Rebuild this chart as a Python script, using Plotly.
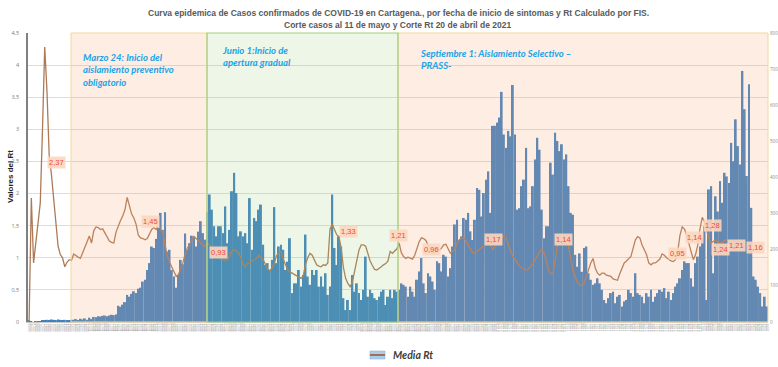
import plotly.graph_objects as go
import pandas as pd

# Daily confirmed cases (right axis)
casos = [
    3, 1, 0, 1, 2, 1, 3, 5, 6, 5, 7, 6, 5, 7, 6, 5, 6, 4, 5, 6,
    6, 8, 5, 9, 7, 10, 6, 12, 8, 14,
    13, 16, 15, 17, 18, 16, 18, 20, 19, 21,
    45, 42, 48, 55,
    75, 70, 78,
    85, 80, 92, 95,
    112, 117, 144, 163, 209, 205, 230, 260, 302, 255, 304, 195, 200, 144, 126, 95, 130, 172, 160, 245,
    200, 218, 239, 237, 209, 250, 279, 246, 228, 305,
    353, 311, 265, 237, 265, 265, 246, 320, 218, 255,
    362, 413, 357, 237, 251, 237, 246, 218, 343, 200,
    288, 279, 311, 325, 214, 158, 163, 144, 172, 318,
    163, 209, 214, 200, 144, 167, 232, 80, 107, 107,
    144, 98, 130, 242, 126, 103, 144, 130, 144, 98,
    126, 98, 135, 75, 98, 353, 205, 158, 237, 209,
    66, 33, 61, 33, 130, 84, 107, 80, 61, 89,
    181, 70, 89, 80, 66, 61, 70, 84, 89, 47,
    70, 89, 66, 89, 84, 89, 107, 103, 98, 70,
    98, 84, 70, 117, 140,
    177, 107, 80, 135, 126, 112, 89, 168, 163, 140,
    186, 181, 126, 149, 209, 270, 283, 227, 237, 288,
    283, 302, 251, 227, 283, 371, 366, 292, 357, 394,
    417, 302, 543, 543, 552, 566, 637, 519, 482, 529,
    514, 656, 519, 311, 315, 376, 394, 482, 315, 320,
    376, 450, 510, 477, 311, 232, 265, 265, 441, 408,
    524, 501, 473, 492, 450, 464, 376, 302, 297, 186,
    153, 190, 139, 205, 209, 135, 117, 103, 107, 121,
    107, 89, 61, 52, 66, 80, 84, 52, 70, 75, 43, 57, 61, 89, 80, 70, 135, 80,
    75, 70, 52, 80, 70, 89, 56, 70, 80, 89, 84, 94, 66, 84, 61, 80, 98, 107,
    121, 144, 168, 163, 163, 121, 98, 163, 181, 209,
    232, 265, 61, 367, 376, 135, 348, 306, 390, 330,
    413, 403, 385, 496, 445, 561, 487, 436, 695, 589,
    404, 658, 316, 126, 117, 98, 80, 43, 70, 43,
]

# Media Rt (left axis)
media_rt = [
    0, 1.93, 0.92, 1.25, 1.55, 1.85, 3.0, 4.28, 3.6, 2.6,
    2.3, 1.95, 1.55, 1.18, 1.05, 1.0, 0.86, 0.93, 0.97, 0.96,
    1.06, 1.03, 1.01, 0.99, 1.07, 1.17, 1.25, 1.34, 1.23, 1.42,
    1.48, 1.47, 1.44, 1.45, 1.38, 1.31, 1.26, 1.24, 1.23, 1.4,
    1.5, 1.58, 1.65, 1.75, 1.94, 1.8, 1.68, 1.62, 1.52, 1.35,
    1.31, 1.3, 1.28, 1.3, 1.38, 1.44, 1.47, 1.44, 1.5, 1.45,
    1.39, 1.2, 1.03, 0.93, 0.86, 0.78, 0.71, 0.74, 0.82, 0.92,
    1.06, 1.15, 1.2, 1.28, 1.33, 1.3, 1.27, 1.23, 1.19, 1.18,
    1.23, 1.2, 1.15, 1.12, 1.1, 1.02, 0.98, 0.97, 0.96, 0.97,
    1.04, 1.1, 1.13, 1.1, 1.07, 1.0, 0.9, 0.86, 0.92, 0.92,
    0.95, 0.97, 0.99, 1.04, 1.0, 0.97, 0.9, 0.82, 0.8, 0.84,
    0.92, 1.03, 1.08, 1.10, 0.98, 0.88, 0.81, 0.78, 0.76, 0.73,
    0.71, 0.69, 0.68, 0.72, 0.9, 1.0, 1.07, 1.04, 0.95, 0.89,
    0.87, 0.86, 0.89, 0.88, 0.92, 1.45, 1.52, 1.44, 1.36, 1.33,
    1.15, 0.85, 0.68, 0.6, 0.55, 0.62, 0.8, 1.0, 1.12, 1.2,
    1.2, 1.18, 1.05, 0.95, 0.88, 0.82, 0.81, 0.83, 0.86, 0.89,
    0.91, 0.95, 1.1, 1.07, 1.1, 1.14, 1.23, 1.08, 1.02, 0.99,
    1.01, 1.0, 0.98, 1.04, 1.15, 1.25, 1.31, 1.3, 1.27, 1.19,
    1.12, 1.08, 1.07, 1.15, 1.12, 1.15, 1.2, 1.21, 1.14, 1.07,
    1.1, 1.13, 1.23, 1.28, 1.3, 1.31, 1.26, 1.2, 1.12, 1.08,
    1.07, 1.1, 1.13, 1.16, 1.19, 1.2, 1.23, 1.2, 1.12, 1.2,
    1.28, 1.31, 1.33, 1.34, 1.31, 1.2, 1.1, 1.03, 0.97, 0.92,
    0.87, 0.84, 0.82, 0.81, 0.83, 0.86, 0.91, 0.97, 1.04, 1.09,
    1.13, 1.08, 0.95, 0.81, 0.75, 0.76, 0.95, 1.2, 1.31, 1.34,
    1.32, 1.28, 1.18, 1.0, 0.8, 0.7, 0.62, 0.58, 0.56, 0.6,
    0.71, 0.82, 0.92, 0.99, 0.84, 0.76, 0.73, 0.76, 0.76, 0.73,
    0.72, 0.71, 0.67, 0.66, 0.65, 0.75, 0.85, 0.92, 0.95, 0.98,
    1.02, 1.15, 1.28, 1.33, 1.31, 1.2, 1.12, 1.05, 0.92, 0.89,
    0.92, 0.92, 0.95, 0.98, 1.06, 1.04, 1.0, 0.97, 0.95, 0.94,
    0.97, 1.1, 1.35, 1.48, 1.45, 1.35, 1.23, 1.07, 0.97, 1.05,
    1.2, 1.45, 1.63, 1.56, 1.44, 1.3, 1.23, 1.26, 1.28, 1.24,
    1.23, 1.24, 1.27, 1.28,
]

# Rt data labels: text, bar index, Rt level of the label
rt_label_text = ["2,37", "1,45", "0,93", "1,33", "1,21", "0,96", "1,17",
                 "1,14", "0,95", "1,14", "1,28", "1,24", "1,21", "1,16"]
rt_label_idx = [12.5, 54.4, 85, 143.5, 165.6, 180.4, 208.3,
                239.8, 290.7, 298.3, 306.4, 310, 317.2, 325.8]
rt_label_lvl = [2.48, 1.56, 1.08, 1.41, 1.34, 1.125, 1.28,
                1.28, 1.06, 1.31, 1.5, 1.125, 1.19, 1.16]

titulo_1 = "Curva epidemica de Casos confirmados de COVID-19 en Cartagena., por fecha de inicio de sintomas y Rt Calculado por FIS."
titulo_2 = "Corte casos al 11 de mayo y Corte Rt 20 de abril de 2021"

N = len(casos)
idx = list(range(N))
fechas = pd.date_range("2020-03-05", periods=N).strftime("%d/%m").tolist()

fig = go.Figure()
fig.add_trace(go.Bar(x=idx, y=casos, yaxis="y", marker=dict(color="#3f82c2", line=dict(width=0)),
                     showlegend=False, name="Casos"))
fig.add_trace(go.Scatter(x=list(range(len(media_rt))), y=media_rt, yaxis="y2", mode="lines",
                         line=dict(color="#ad7a58", width=1.3), name="Media Rt", showlegend=False))

W0, W = 28, 740
H0, H = 322, 289
def px(x):
    return (x - W0) / W
def py(y):
    return (H0 - y) / H

shapes = [
    dict(type="rect", xref="paper", yref="paper", x0=px(71), x1=px(207), y0=0, y1=1, layer="above",
         fillcolor="rgba(245,165,115,0.2)", line=dict(color="#f3d999", width=1)),
    dict(type="rect", xref="paper", yref="paper", x0=px(398), x1=1, y0=0, y1=1, layer="above",
         fillcolor="rgba(245,165,115,0.2)", line=dict(color="#f3d999", width=1)),
    dict(type="rect", xref="paper", yref="paper", x0=px(207), x1=px(398), y0=0, y1=1, layer="above",
         fillcolor="rgba(150,200,110,0.17)", line=dict(color="#a3cf7f", width=1.2)),
    # legend symbol
    dict(type="rect", xref="paper", yref="paper", x0=px(370), x1=px(385), y0=py(359), y1=py(351),
         fillcolor="#a9cdee", line=dict(color="#8fb6dc", width=0.6)),
    dict(type="line", xref="paper", yref="paper", x0=px(370), x1=px(385), y0=py(355), y1=py(355),
         line=dict(color="#a36f4f", width=2)),
]

blue_font = dict(family="Lato, Open Sans, sans-serif", size=9.5, color="#1aa3e8")
title_font = dict(family="Liberation Sans, Arial, sans-serif", size=8.5, color="#595959")
annotations = [
    dict(xref="paper", yref="paper", x=px(398), y=py(13), xanchor="center", yanchor="middle",
         showarrow=False, font=title_font, text="<b>" + titulo_1 + "</b>"),
    dict(xref="paper", yref="paper", x=px(398), y=py(25), xanchor="center", yanchor="middle",
         showarrow=False, font=title_font, text="<b>" + titulo_2 + "</b>"),
    dict(xref="paper", yref="paper", x=px(81), y=py(50), xanchor="left", yanchor="top", align="left",
         showarrow=False, font=blue_font,
         text="<b><i>Marzo 24: Inicio del<br>aislamiento preventivo<br>obligatorio</i></b>"),
    dict(xref="paper", yref="paper", x=px(220), y=py(43), xanchor="left", yanchor="top", align="left",
         showarrow=False, font=blue_font,
         text="<b><i>Junio 1:Inicio de<br>apertura gradual</i></b>"),
    dict(xref="paper", yref="paper", x=px(418), y=py(46), xanchor="left", yanchor="top", align="left",
         showarrow=False, font=blue_font,
         text="<b><i>Septiembre 1: Aislamiento Selectivo –<br>PRASS-</i></b>"),
    dict(xref="paper", yref="paper", x=px(391), y=py(355), xanchor="left", yanchor="middle",
         showarrow=False, font=dict(family="Lato, sans-serif", size=10.5, color="#404040"),
         text="<b><i>Media Rt</i></b>"),
    dict(xref="paper", yref="paper", x=px(10), y=py(177), xanchor="center", yanchor="middle",
         textangle=-90, showarrow=False,
         font=dict(size=8, color="#222222", family="Liberation Sans, Arial, sans-serif"),
         text="<b>Valores del Rt</b>"),
]
for t, xi, lv in zip(rt_label_text, rt_label_idx, rt_label_lvl):
    annotations.append(dict(xref="x", yref="y2", x=xi, y=lv, text=t, showarrow=False,
                            font=dict(family="Liberation Sans, Arial, sans-serif", size=7.5, color="#f0483c"),
                            bgcolor="rgba(252,214,190,0.9)", borderpad=1))

fig.update_layout(
    width=778, height=367,
    margin=dict(l=28, r=10, t=33, b=45, autoexpand=False),
    paper_bgcolor="white", plot_bgcolor="white",
    separators=",.",
    bargap=0.12,
    xaxis=dict(range=[-0.5, N - 0.5], tickmode="array", tickvals=idx, ticktext=fechas, tickangle=90,
               tickfont=dict(size=3, color="#a0a0a0"), showgrid=False, zeroline=False,
               showline=True, linecolor="#c8c8c8", linewidth=1, ticks="", automargin=False),
    yaxis=dict(range=[0, 800], side="right", dtick=100, showgrid=False, zeroline=False,
               tickfont=dict(size=4.5, color="#8c8c8c"), ticks="", ticklabelstandoff=1, automargin=False),
    yaxis2=dict(range=[0, 4.5], overlaying="y", side="left", dtick=0.5, showgrid=True,
                gridcolor="#dcdcdc", gridwidth=1, zeroline=False, showline=True, linecolor="#808080",
                linewidth=1.5, tickfont=dict(size=5.5, color="#7a7a7a"), ticks="", ticklabelstandoff=6,
                automargin=False),
    shapes=shapes,
    annotations=annotations,
)

fig.write_html("out.html", config={"displayModeBar": False},
               post_script="document.body.style.margin='0px';document.body.style.overflow='hidden';")
